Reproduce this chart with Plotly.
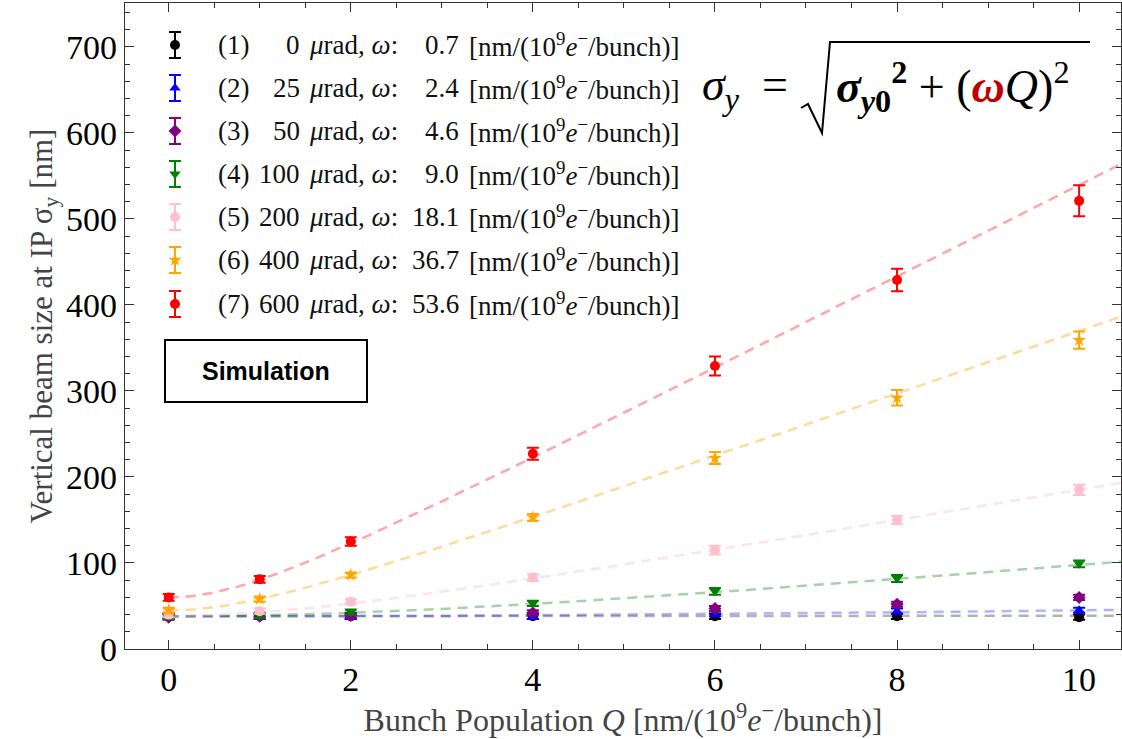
import plotly.graph_objects as go
import numpy as np

Q = [0, 1, 2, 4, 6, 8, 10]
angles = ["0", "25", "50", "100", "200", "400", "600"]
omegas = [0.7, 2.4, 4.6, 9.0, 18.1, 36.7, 53.6]
sigma0 = [38, 38, 38, 38, 38.5, 45, 60]
show_fit = [True, True, False, True, True, True, True]

s1 = [38, 38, 38, 38, 38, 38, 37]
s2 = [38, 38, 38, 38, 41, 44, 45]
s3 = [37, 38, 39, 42, 47, 52, 60]
s4 = [38, 39, 43, 53, 67, 82, 99]
s5 = [40, 44, 55, 83, 115, 150, 185]
s6 = [45, 58, 86, 153, 222, 292, 359]
s7 = [60, 81, 125, 227, 329, 429, 521]
series = [s1, s2, s3, s4, s5, s6, s7]

e1 = [3, 3, 3, 3, 3, 3, 3]
e2 = [3, 3, 3, 3, 3, 3, 3]
e3 = [3, 3, 3, 3, 3, 3, 3]
e4 = [3, 3, 3, 3, 4, 4, 4]
e5 = [3, 3, 3, 4, 5, 5, 6]
e6 = [3, 3, 3, 4, 7, 9, 10]
e7 = [4, 4, 5, 7, 11, 13, 18]
errs = [e1, e2, e3, e4, e5, e6, e7]

colors = ["black", "blue", "purple", "green", "pink", "orange", "red"]
line_colors = ["rgba(0,0,0,0.3)", "rgba(0,0,255,0.3)", "rgba(128,0,128,0.3)",
               "rgba(0,128,0,0.35)", "rgba(255,192,203,0.45)",
               "rgba(255,165,0,0.4)", "rgba(255,0,0,0.35)"]
symbols = ["circle", "triangle-up", "diamond", "triangle-down", "circle", "star", "circle"]

SERIF = "Liberation Serif, Times New Roman, serif"
MATH = "Liberation Serif, Times New Roman, serif"

fig = go.Figure()

qf = np.linspace(0, 10.46, 200)
for i in range(7):
    if show_fit[i]:
        fig.add_trace(go.Scatter(
            x=qf, y=np.sqrt(sigma0[i] ** 2 + (omegas[i] * qf) ** 2),
            mode="lines", line=dict(color=line_colors[i], width=2.5, dash="10px,7px"),
            showlegend=False, hoverinfo="skip"))

for i in range(7):
    fig.add_trace(go.Scatter(
        x=Q, y=series[i], mode="markers",
        marker=dict(color=colors[i], symbol=symbols[i], size=10, line=dict(width=0)),
        error_y=dict(type="data", array=errs[i], color=colors[i], thickness=2, width=6),
        showlegend=False))

# Legend (overlay pixel axes)
rows = [45, 88, 131, 174, 217, 260, 304]
for i in range(7):
    fig.add_trace(go.Scatter(
        x=[175], y=[rows[i]], xaxis="x2", yaxis="y2", mode="markers",
        marker=dict(color=colors[i], symbol=symbols[i], size=10),
        error_y=dict(type="constant", value=13, color=colors[i], thickness=2, width=6),
        showlegend=False, hoverinfo="skip", cliponaxis=False))

LF = dict(family=SERIF, size=27, color="#111")
annotations = []
for i in range(7):
    y = rows[i]
    annotations.append(dict(x=216, y=y, xref="x2", yref="y2", text=f"({i+1})",
                            xanchor="left", yanchor="middle", showarrow=False, font=LF))
    annotations.append(dict(x=302, y=y, xref="x2", yref="y2", text=angles[i],
                            xanchor="right", yanchor="middle", showarrow=False, font=LF))
    annotations.append(dict(x=307, y=y, xref="x2", yref="y2",
                            text="<i>μ</i>rad, <i>ω</i>:",
                            xanchor="left", yanchor="middle", showarrow=False, font=LF))
    annotations.append(dict(x=461, y=y, xref="x2", yref="y2", text=f"{omegas[i]:.1f}",
                            xanchor="right", yanchor="middle", showarrow=False, font=LF))
    annotations.append(dict(x=467, y=y, xref="x2", yref="y2",
                            text="[nm/(10<sup>9</sup><i>e</i><sup>−</sup>/bunch)]",
                            xanchor="left", yanchor="middle", showarrow=False, font=LF))

# Formula
annotations.append(dict(x=700, y=88, xref="x2", yref="y2",
                        text="<i>σ</i><sub><i>y</i></sub>\u2002=",
                        xanchor="left", yanchor="middle", showarrow=False,
                        font=dict(family=MATH, size=46, color="black")))
annotations.append(dict(x=834, y=86, xref="x2", yref="y2",
                        text="<b><i>σ</i><sub><i>y</i>0</sub><sup>2</sup></b> + (<b><i><span style='color:#c00000'>ω</span></i></b><i>Q</i>)<sup>2</sup>",
                        xanchor="left", yanchor="middle", showarrow=False,
                        font=dict(family=MATH, size=46, color="black")))

# Simulation box text
annotations.append(dict(x=266, y=371, xref="x2", yref="y2", text="<b>Simulation</b>",
                        xanchor="center", yanchor="middle", showarrow=False,
                        font=dict(family="Liberation Sans, Arial, sans-serif", size=25, color="black")))

shapes = [
    dict(type="path", xref="x2", yref="y2",
         path="M 801,108 L 808,104 L 822,133 L 830,42 L 1090,42",
         line=dict(color="black", width=2)),
    dict(type="rect", xref="x2", yref="y2", x0=165, x1=367, y0=340, y1=402,
         line=dict(color="black", width=2), fillcolor="rgba(0,0,0,0)"),
]

fig.update_layout(
    width=1122, height=739,
    margin=dict(l=125, r=1, t=3, b=90),
    paper_bgcolor="white", plot_bgcolor="white",
    showlegend=False,
    annotations=annotations, shapes=shapes,
    xaxis=dict(range=[-0.48, 10.46], tickvals=[0, 2, 4, 6, 8, 10],
               ticks="inside", ticklen=9, tickwidth=1, tickcolor="#333",
               minor=dict(ticks="inside", dtick=0.5, ticklen=5, tickcolor="#333"),
               showline=True, linecolor="#333", linewidth=1.2, mirror="allticks",
               showgrid=False, zeroline=False,
               tickfont=dict(family=SERIF, size=34, color="black"),
               title=dict(text="Bunch Population <i>Q</i> [nm/(10<sup>9</sup><i>e</i><sup>−</sup>/bunch)]",
                          font=dict(family=SERIF, size=32, color="#444"), standoff=6)),
    yaxis=dict(range=[0, 751], tickvals=[0, 100, 200, 300, 400, 500, 600, 700],
               ticks="inside", ticklen=9, tickwidth=1, tickcolor="#333",
               minor=dict(ticks="inside", dtick=20, ticklen=5, tickcolor="#333"),
               showline=True, linecolor="#333", linewidth=1.2, mirror="allticks",
               showgrid=False, zeroline=False,
               tickfont=dict(family=SERIF, size=34, color="black"),
               title=dict(text="Vertical beam size at IP σ<sub>y</sub> [nm]",
                          font=dict(family=SERIF, size=31, color="#444"), standoff=4)),
    xaxis2=dict(range=[125, 1121], overlaying="x", visible=False, fixedrange=True),
    yaxis2=dict(range=[649, 3], overlaying="y", visible=False, fixedrange=True),
)

fig.write_html("out.html")
